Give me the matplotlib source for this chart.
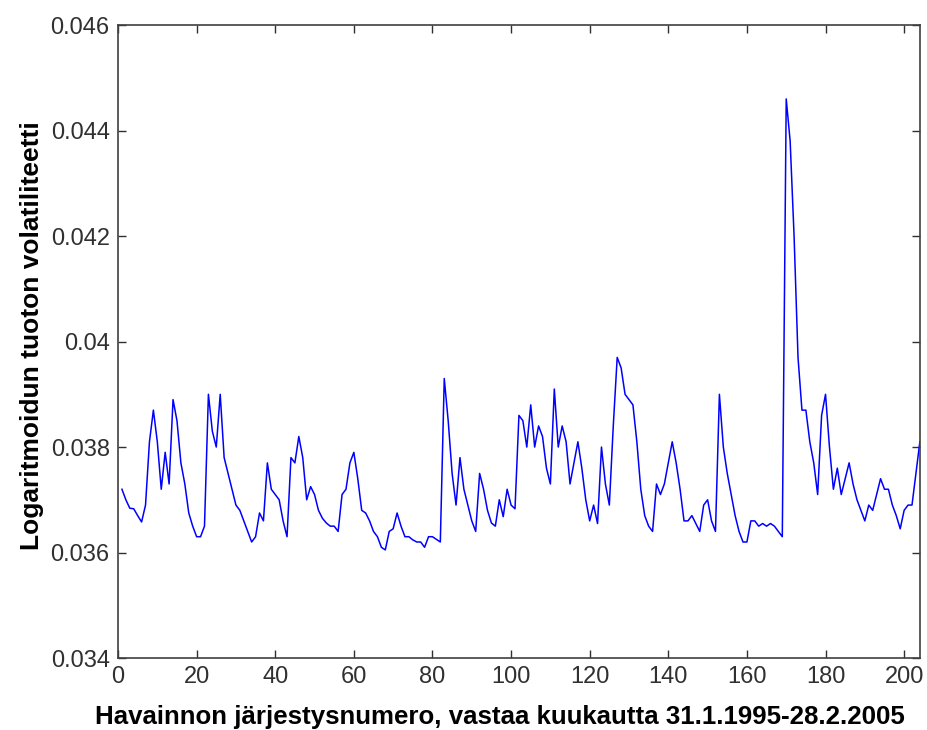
import numpy as np
import matplotlib
matplotlib.use("Agg")
import matplotlib.pyplot as plt

volatility = [
    0.0372, 0.0370, 0.03684, 0.03683, 0.0367, 0.03658, 0.0369, 0.0381, 0.0387, 0.0381,
    0.0372, 0.0379, 0.0373, 0.0389, 0.0385, 0.0377, 0.0373, 0.03675, 0.0365, 0.0363,
    0.0363, 0.0365, 0.0390, 0.0383, 0.0380, 0.0390, 0.0378, 0.0375, 0.0372, 0.0369,
    0.0368, 0.0366, 0.0364, 0.0362, 0.0363, 0.03675, 0.0366, 0.0377, 0.0372, 0.0371,
    0.0370, 0.0366, 0.0363, 0.0378, 0.0377, 0.0382, 0.0378, 0.0370, 0.03725, 0.0371,
    0.0368, 0.03665, 0.03656, 0.0365, 0.0365, 0.0364, 0.0371, 0.0372, 0.0377, 0.0379,
    0.0374, 0.0368, 0.03675, 0.0366, 0.0364, 0.0363, 0.0361, 0.03605, 0.0364, 0.03645,
    0.03675, 0.0365, 0.0363, 0.0363, 0.03624, 0.0362, 0.0362, 0.0361, 0.0363, 0.0363,
    0.03625, 0.0362, 0.0393, 0.0385, 0.0375, 0.0369, 0.0378, 0.0372, 0.0369, 0.0366,
    0.0364, 0.0375, 0.0372, 0.0368, 0.03656, 0.0365, 0.0370, 0.03668, 0.0372, 0.0369,
    0.03683, 0.0386, 0.0385, 0.0380, 0.0388, 0.0380, 0.0384, 0.0382, 0.0376, 0.0373,
    0.0391, 0.0380, 0.0384, 0.0381, 0.0373, 0.0377, 0.0381, 0.0376, 0.0370, 0.0366,
    0.0369, 0.03655, 0.0380, 0.0373, 0.0369, 0.0384, 0.0397, 0.0395, 0.0390, 0.0389,
    0.0388, 0.0381, 0.0372, 0.0367, 0.0365, 0.0364, 0.0373, 0.0371, 0.0373, 0.0377,
    0.0381, 0.0377, 0.0372, 0.0366, 0.0366, 0.0367, 0.03655, 0.0364, 0.0369, 0.0370,
    0.0366, 0.0364, 0.0390, 0.0380, 0.0375, 0.0371, 0.0367, 0.0364, 0.0362, 0.0362,
    0.0366, 0.0366, 0.0365, 0.03655, 0.0365, 0.03655, 0.0365, 0.0364, 0.0363, 0.0446,
    0.0438, 0.0420, 0.0397, 0.0387, 0.0387, 0.0381, 0.0377, 0.0371, 0.0386, 0.0390,
    0.0380, 0.0372, 0.0376, 0.0371, 0.0374, 0.0377, 0.0373, 0.0370, 0.0368, 0.0366,
    0.0369, 0.0368, 0.0371, 0.0374, 0.0372, 0.0372, 0.0369, 0.0367, 0.03645, 0.0368,
    0.0369, 0.0369, 0.0375, 0.0381,
]
obs = np.arange(1, len(volatility) + 1)

x_ticks = [0, 20, 40, 60, 80, 100, 120, 140, 160, 180, 200]
y_ticks = [0.034, 0.036, 0.038, 0.04, 0.042, 0.044, 0.046]
y_ticklabels = ['0.034', '0.036', '0.038', '0.04', '0.042', '0.044', '0.046']

plt.rcParams['font.family'] = ['Liberation Sans', 'DejaVu Sans']

fig = plt.figure(figsize=(9.27, 7.3), dpi=100)
ax = fig.add_axes([0.1273, 0.0986, 0.865, 0.867])

ax.plot(obs, volatility, color='blue', linewidth=1.1)

ax.set_xlim(0, 204)
ax.set_ylim(0.034, 0.046)
ax.set_xticks(x_ticks)
ax.set_yticks(y_ticks)
ax.set_yticklabels(y_ticklabels)

ax.tick_params(direction='in', length=6, width=1, top=True, right=True,
               labelsize=17, labelcolor='#303030', color='#303030', pad=6)
for sp in ax.spines.values():
    sp.set_color('#404040')
    sp.set_linewidth(1.2)

ax.set_xlabel('Havainnon järjestysnumero, vastaa kuukautta 31.1.1995-28.2.2005',
              fontsize=18.6, fontweight='bold')
ax.xaxis.set_label_coords(0.476, -0.075)
ax.set_ylabel('Logaritmoidun tuoton volatiliteetti',
              fontsize=19, fontweight='bold')
ax.yaxis.set_label_coords(-0.092, 0.51)

fig.savefig('out.png', dpi=100)
